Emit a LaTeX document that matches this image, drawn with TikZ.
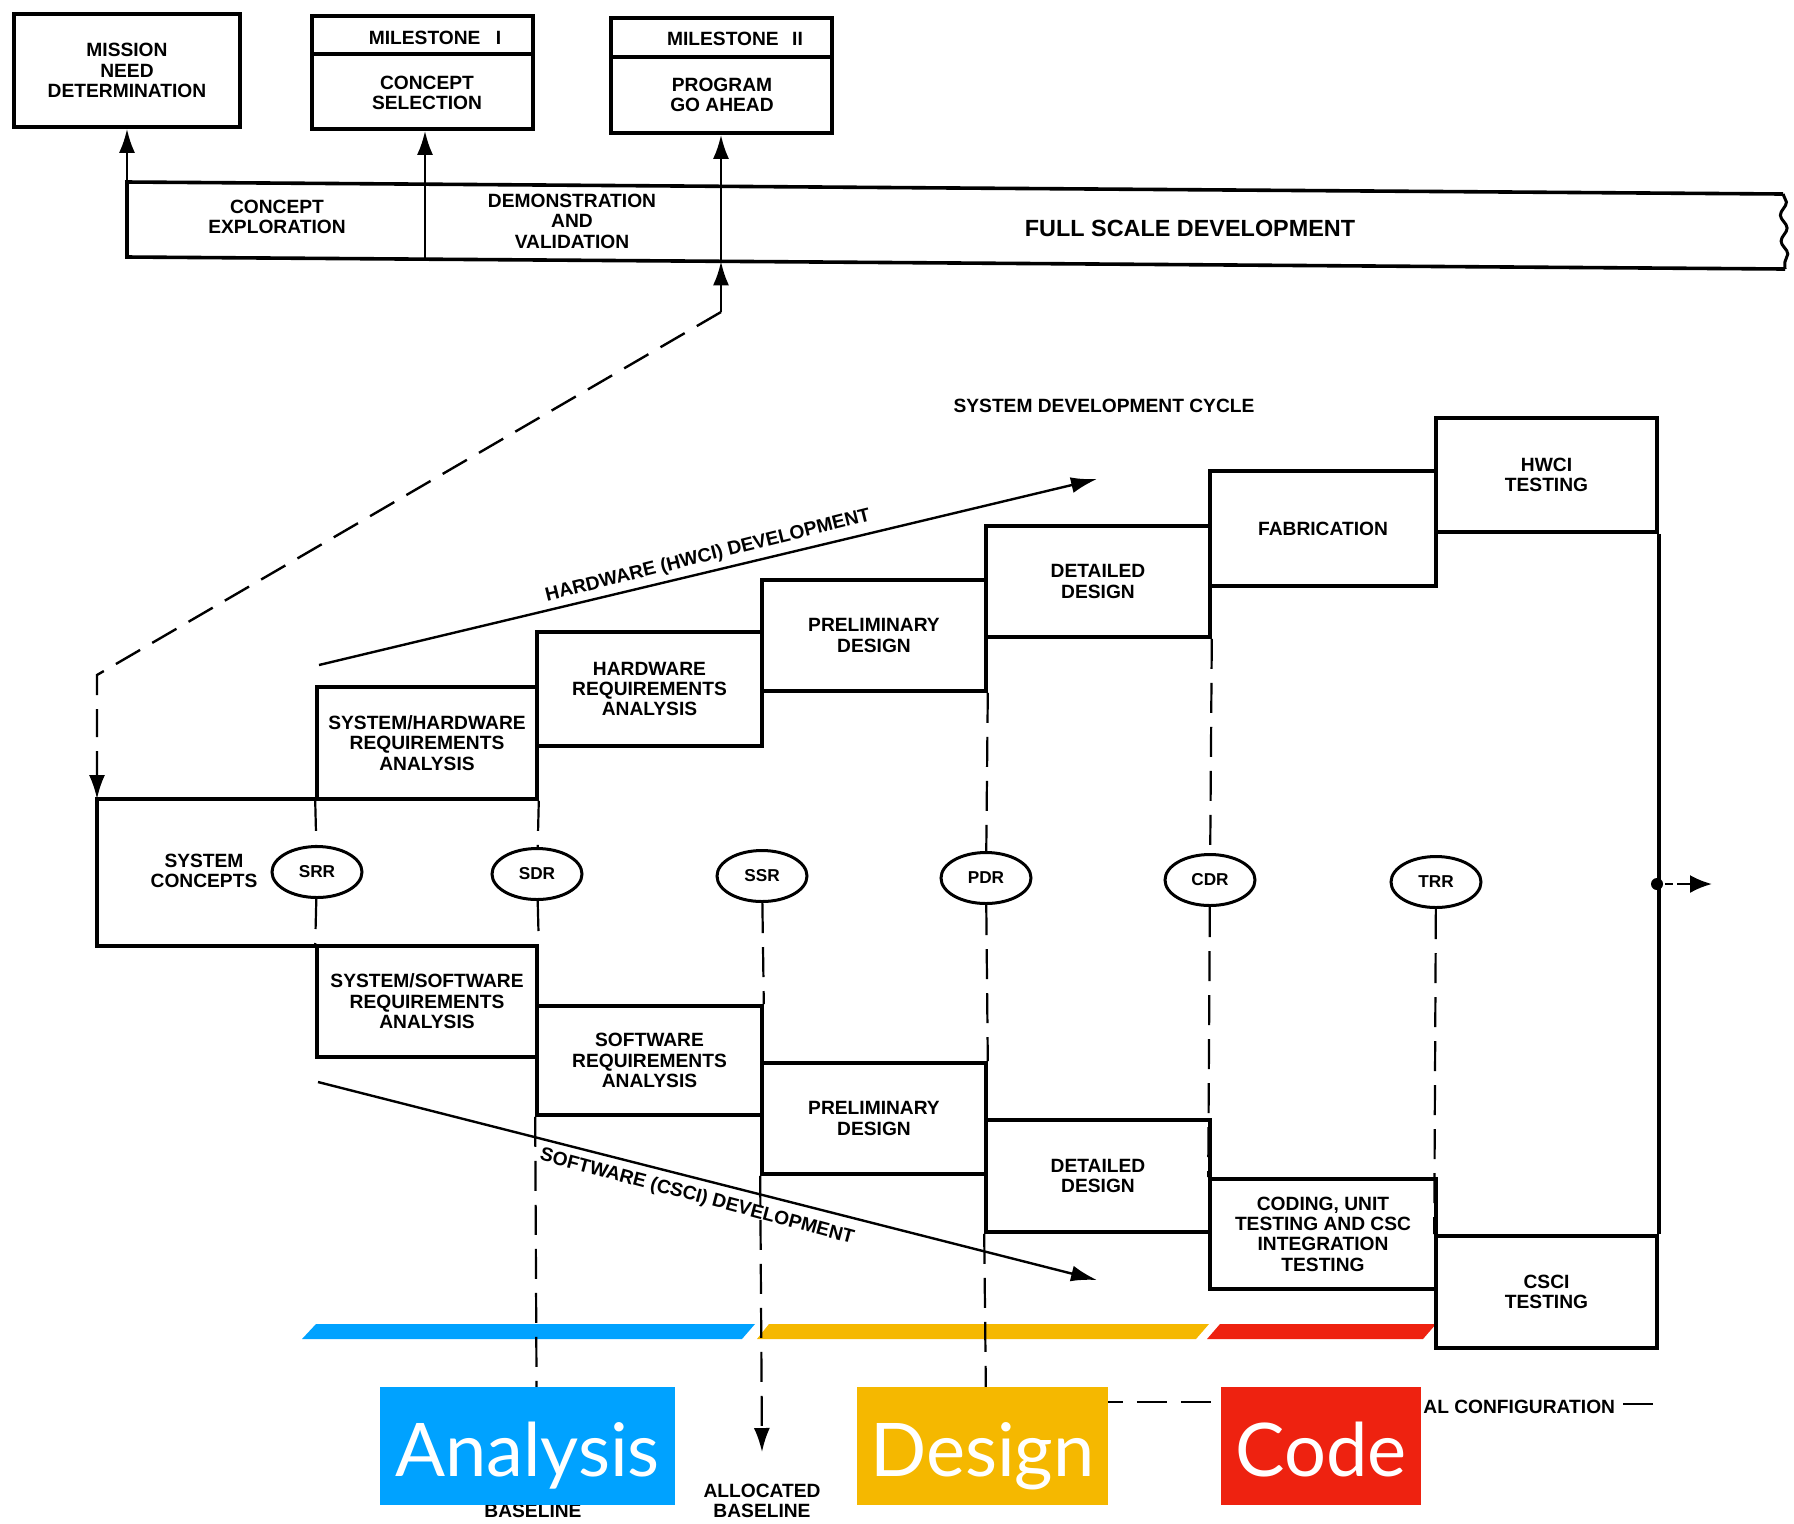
\documentclass[tikz,border=0pt]{standalone}
\usepackage{fontspec}
\setmainfont{Liberation Sans}
\newfontfamily\latofont{Lato}
\usetikzlibrary{arrows.meta,shapes.geometric,decorations.pathmorphing}

\definecolor{barblue}{RGB}{0,162,255}
\definecolor{baryellow}{RGB}{245,184,0}
\definecolor{barred}{RGB}{238,34,16}

\newcommand\lblfont{\bfseries\fontsize{9.6}{10.2}\selectfont}
% stage box from its corners: name, x1, y1, x2, y2, text
\newcommand\stagebox[6]{%
  \node[stage, minimum width={(#4-#2)*0.5pt}, minimum height={(#5-#3)*0.5pt}]
    (#1) at ({(#2+#4)/2},{(#3+#5)/2}) {#6};}

\begin{document}
\begin{tikzpicture}[x=0.5pt,y=-0.5pt,
  lbl/.style={font=\lblfont, align=center, inner sep=0pt},
  stage/.style={draw, line width=1.8pt, inner sep=0pt, align=center, font=\lblfont},
  review/.style={line width=1.1pt, dash pattern=on 15pt off 7pt},
  gate/.style={ellipse, draw, line width=1.5pt, minimum width=45pt, minimum height=25.5pt,
    inner sep=0pt, font=\bfseries\fontsize{8.6}{9}\selectfont},
  arrow/.style={line width=1.3pt, -{Latex[length=12pt,width=8pt]}},
  devarrow/.style={line width=1.2pt, -{Latex[length=13pt,width=8pt]}},
  phase/.style={inner sep=0pt, text=white, font=\latofont\fontsize{37}{40}\selectfont,
    text height=30pt, text depth=0pt, minimum height=59pt}]

\useasboundingbox (0,0) rectangle (1794,1523);

% ---- phase bars ----
\fill[barblue]   (302,1339) -- (316,1324) -- (755,1324) -- (742,1339) -- cycle;
\fill[baryellow] (757,1339) -- (769,1324) -- (1209,1324) -- (1196,1339) -- cycle;
\fill[barred]    (1207,1339) -- (1220,1324) -- (1436,1324) -- (1423,1339) -- cycle;

% ---- acquisition milestones ----
\stagebox{mission}{14}{14}{240}{127}{MISSION\\NEED\\DETERMINATION}
\stagebox{ms1}{312}{16}{533}{129}{}
\stagebox{ms2}{611}{18}{832}{133}{}
\draw[line width=1.8pt] (312,54) -- (533,54);
\draw[line width=1.8pt] (611,57) -- (832,57);
\node[lbl] (ms1head) at (435,38) {MILESTONE\hspace{0.8em}I};
\node[lbl] (ms1body) at (427,93) {CONCEPT\\SELECTION};
\node[lbl] (ms2head) at (735,39) {MILESTONE\hspace{0.7em}II};
\node[lbl] (ms2body) at (722,95) {PROGRAM\\GO AHEAD};

% ---- acquisition phases band ----
\coordinate (bandTL) at (127,182);
\coordinate (bandTR) at (1783,194);
\coordinate (bandBR) at (1785,269);
\coordinate (bandBL) at (127,257);
\draw[line width=1.8pt] (bandTR) -- (bandTL) -- (bandBL) -- (bandBR);
\draw[line width=1.5pt, decorate, decoration={snake, amplitude=1.6pt, segment length=13pt}]
  (bandTR) -- (bandBR);
\coordinate (d1t) at (425,184.2);
\coordinate (d1b) at (425,259.2);
\coordinate (d2b) at (721,261.3);
\coordinate (go) at (721,312);
\draw[line width=1.4pt] (d1b) -- (d1t);
\draw[arrow] (bandTL) -- (bandTL |- mission.south);
\draw[arrow] (d1t) -- (d1t |- ms1.south);
\draw[arrow] (go) -- (d2b);
\draw[arrow] (d2b) -- (d2b |- ms2.south);
\node[lbl] (cexp) at (277,217) {CONCEPT\\EXPLORATION};
\node[lbl] (demval) at (572,221) {DEMONSTRATION\\AND\\VALIDATION};
\node[lbl, font=\bfseries\fontsize{11.7}{12}\selectfont] (fsd) at (1190,228) {FULL SCALE DEVELOPMENT};

\node[lbl] (sdc) at (1104,406) {SYSTEM DEVELOPMENT CYCLE};

% ---- system concepts ----
\coordinate (elbow) at (97,675);
\coordinate (sysTL) at (97,799);
\draw[line width=1.8pt] (537,799) -- (sysTL) -- (97,946) -- (537,946);
\draw[line width=1.2pt, dash pattern=on 14pt off 7pt, -{Latex[length=12pt,width=8pt]}]
  (go) -- (elbow) -- (sysTL);
\node[lbl] (syscon) at (204,871) {SYSTEM\\CONCEPTS};

% ---- hardware (HWCI) stages ----
\stagebox{syshw}{317}{687}{537}{799}{SYSTEM/HARDWARE\\REQUIREMENTS\\ANALYSIS}
\stagebox{hwreq}{537}{632}{762}{746}{HARDWARE\\REQUIREMENTS\\ANALYSIS}
\stagebox{hwprel}{762}{580}{986}{691}{PRELIMINARY\\DESIGN}
\stagebox{hwdet}{986}{526}{1210}{637}{DETAILED\\DESIGN}
\stagebox{fab}{1210}{471}{1436}{586}{FABRICATION}
\stagebox{hwci}{1436}{418}{1657}{532}{HWCI\\TESTING}

% ---- software (CSCI) stages ----
\stagebox{syssw}{317}{946}{537}{1057}{SYSTEM/SOFTWARE\\REQUIREMENTS\\ANALYSIS}
\stagebox{swreq}{537}{1006}{762}{1115}{SOFTWARE\\REQUIREMENTS\\ANALYSIS}
\stagebox{swprel}{762}{1063}{986}{1174}{PRELIMINARY\\DESIGN}
\stagebox{swdet}{986}{1120}{1210}{1232}{DETAILED\\DESIGN}
\stagebox{coding}{1210}{1179}{1436}{1289}{CODING, UNIT\\TESTING AND CSC\\INTEGRATION\\TESTING}
\stagebox{csci}{1436}{1236}{1657}{1348}{CSCI\\TESTING}

% ---- development trend arrows ----
\coordinate (hwA) at (319,665);
\coordinate (hwB) at (1097,479);
\draw[devarrow] (hwA) -- (hwB);
\node[lbl, rotate=14] (hwlabel) at (708,556) {HARDWARE (HWCI) DEVELOPMENT};
\coordinate (swA) at (318,1082);
\coordinate (swB) at (1097,1280);
\draw[devarrow] (swA) -- (swB);
\node[lbl, rotate=-15] (swlabel) at (697,1197) {SOFTWARE (CSCI) DEVELOPMENT};

% ---- reviews ----
\node[gate] (srr) at (317,872) {SRR};
\node[gate] (sdr) at (537,874) {SDR};
\node[gate] (ssr) at (762,876) {SSR};
\node[gate] (pdr) at (986,878) {PDR};
\node[gate] (cdr) at (1210,880) {CDR};
\node[gate] (trr) at (1436,882) {TRR};

\coordinate (fbase) at (537,1480);
\coordinate (abase) at (762,1452);
\coordinate (devc) at (986,1402);
\coordinate (devend) at (1250,1402);

\draw[review] (syshw.south west) -- (srr);
\draw[review] (srr) -- (syssw.north west);
\draw[review] (syshw.south east) -- (sdr);
\draw[review] (sdr) -- (syssw.north east);
\draw[review] (swreq.south west) -- (fbase);
\draw[review] (ssr) -- (swreq.north east);
\draw[review, -{Latex[length=12pt,width=8pt]}] (swprel.south west) -- (abase);
\draw[review] (hwprel.south east) -- (pdr);
\draw[review] (pdr) -- (swprel.north east);
\draw[review] (swdet.south west) -- (devc);
\draw[review, {Latex[length=10pt,width=6pt]}-] (devc) -- (devend);
\draw[review] (hwdet.south east) -- (cdr);
\draw[review] (cdr) -- (coding.north west);
\draw[review] (trr) -- (csci.north west);

% ---- system output ----
\draw[line width=1.8pt] (hwci.south east) -- (csci.north east);
\coordinate (outdot) at (1657,884);
\coordinate (outtip) at (1712,884);
\fill (outdot) circle[radius=3pt];
\draw[line width=1.3pt, dash pattern=on 4pt off 2pt on 30pt, shorten <=4pt,
  -{Latex[length=11pt,width=9pt]}] (outdot) -- (outtip);

% ---- baselines ----
\node[lbl] (funcbase) at (533,1511) {BASELINE};
\node[lbl] (alloc) at (762,1501) {ALLOCATED\\BASELINE};
\node[lbl, anchor=west] (devconf) at (1423,1407) {AL CONFIGURATION};
\coordinate (confend) at (1653,1404);
\draw[line width=1.1pt, shorten <=4pt] (devconf.east |- confend) -- (confend);

% ---- phase labels ----
\node[phase, fill=barblue, minimum width=147.5pt] (analysis) at (527.5,1446) {Analysis};
\node[phase, fill=baryellow, minimum width=125.5pt] (design) at (982.5,1446) {Design};
\node[phase, fill=barred, minimum width=100pt] (code) at (1321,1446) {Code};

\end{tikzpicture}
\end{document}
